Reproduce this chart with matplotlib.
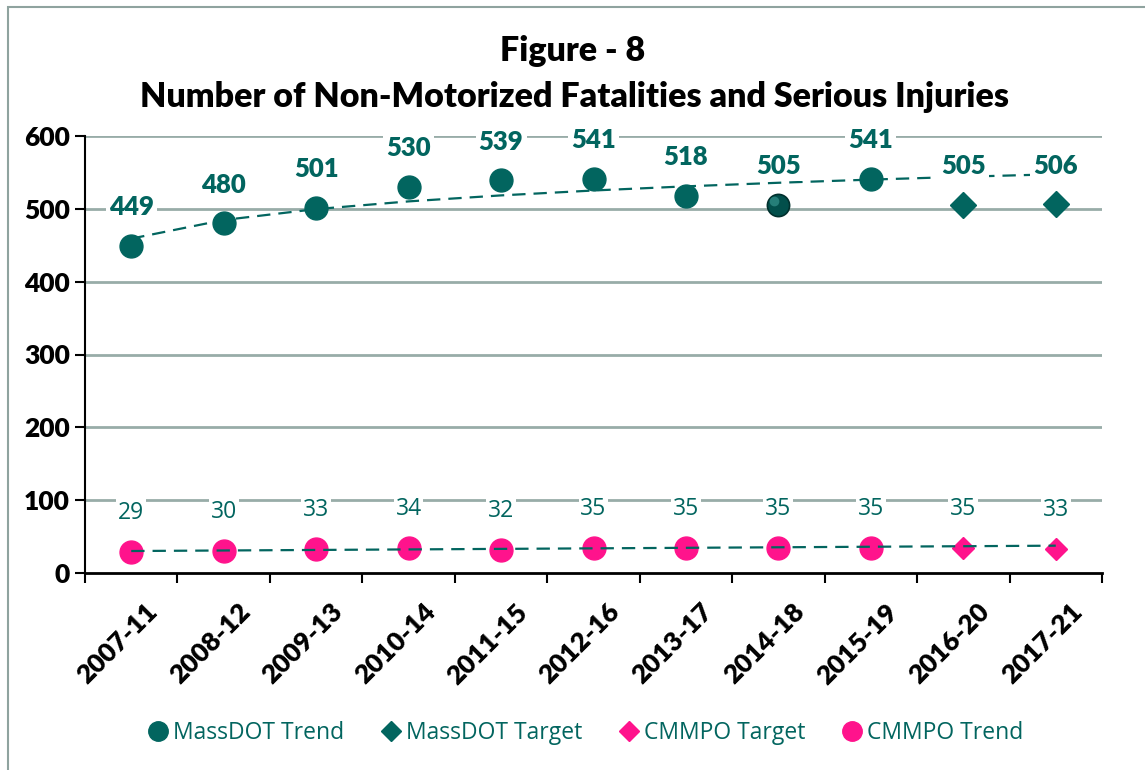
import numpy as np
import matplotlib
matplotlib.use("Agg")
import matplotlib.pyplot as plt
from matplotlib.lines import Line2D
from matplotlib.patches import Rectangle
import matplotlib.transforms as mtransforms

# ---------------- data ----------------
periods = ["2007-11", "2008-12", "2009-13", "2010-14", "2011-15", "2012-16",
           "2013-17", "2014-18", "2015-19", "2016-20", "2017-21"]
massdot_trend = [449, 480, 501, 530, 539, 541, 518, 505, 541]   # 2007-11 .. 2015-19
massdot_target = [505, 506]                                      # 2016-20, 2017-21
cmmpo_trend = [29, 30, 33, 34, 32, 35, 35, 35, 35]               # 2007-11 .. 2015-19
cmmpo_target = [35, 33]                                          # 2016-20, 2017-21
yticks = [0, 100, 200, 300, 400, 500, 600]

TEAL = "#02655F"
PINK = "#FF138C"
GRID = "#98ACA8"

plt.rcParams["font.family"] = ["Lato", "DejaVu Sans"]

fig = plt.figure(figsize=(11.45, 7.7), dpi=100)
ax = fig.add_axes([85 / 1145, 1 - 573 / 770, (1102 - 85) / 1145, (573 - 136) / 770])

n_trend = len(massdot_trend)
x_trend = np.arange(n_trend)
x_target = np.arange(n_trend, n_trend + len(massdot_target))
x_all = np.arange(len(periods))

# trendlines (fit from the plotted values, as in the spreadsheet)
lx = np.log(x_trend + 1)
b, a = np.polyfit(lx, massdot_trend, 1)
m_line = a + b * np.log(x_all + 1)
cb, ca = np.polyfit(x_trend + 1, cmmpo_trend, 1)
c_line = ca + cb * (x_all + 1)

dash = (0, (6, 3.6))
ax.plot(x_all, m_line, color=TEAL, lw=1.6, linestyle=dash, zorder=3)

# MassDOT trend markers (2014-18 drawn with a shaded look)
special = periods.index("2014-18")
reg = [i for i in x_trend if i != special]
ax.plot(reg, [massdot_trend[i] for i in reg], linestyle="none", marker="o",
        ms=16.5, color=TEAL, mec=TEAL, zorder=4)
ax.plot([special], [massdot_trend[special]], linestyle="none", marker="o",
        ms=16, color="#024F4B", mec="#01302D", mew=1.2, zorder=4)
ax.plot([special], [massdot_trend[special]], linestyle="none", marker="o",
        ms=7, color="#2E8A84", mec="none", alpha=0.8, zorder=4,
        transform=ax.transData + mtransforms.ScaledTranslation(-3 / 72, 3 / 72, fig.dpi_scale_trans))
ax.plot(x_target, massdot_target, linestyle="none", marker="D", ms=13.5,
        color=TEAL, mec=TEAL, zorder=4)

# CMMPO markers + trend
ax.plot(x_trend, cmmpo_trend, linestyle="none", marker="o", ms=16.5,
        color=PINK, mec=PINK, zorder=4)
ax.plot(x_target, cmmpo_target, linestyle="none", marker="D", ms=11.5,
        color=PINK, mec=PINK, zorder=4)
ax.plot(x_all, c_line, color=TEAL, lw=1.6, linestyle=dash, zorder=5)

# data labels
m_vals = massdot_trend + massdot_target
c_vals = cmmpo_trend + cmmpo_target
for i, v in enumerate(m_vals):
    ax.annotate(str(v), (i, v), xytext=(0, 28), textcoords="offset points",
                ha="center", va="center", fontsize=18.5, fontweight="heavy",
                color=TEAL, zorder=6,
                bbox=dict(boxstyle="square,pad=0.12", fc="white", ec="none"))
for i, v in enumerate(c_vals):
    ax.annotate(str(v), (i, v), xytext=(0, 28), textcoords="offset points",
                ha="center", va="center", fontsize=16.5, color=TEAL, zorder=6,
                family=["Open Sans", "DejaVu Sans"],
                bbox=dict(boxstyle="square,pad=0.08", fc="white", ec="none"))

# axes styling
ax.set_xlim(-0.5, len(periods) - 0.5)
ax.set_ylim(0, 600)
ax.set_yticks(yticks)
ax.set_yticklabels([str(t) for t in yticks], fontsize=19, fontweight="heavy")
ax.set_xticks(np.arange(len(periods) + 1) - 0.5, minor=False)
ax.set_xticklabels([""] * (len(periods) + 1))
ax.set_xticks(x_all, minor=True)
ax.set_xticklabels(periods, minor=True, rotation=45, ha="right",
                   rotation_mode="anchor", fontsize=19, fontweight="heavy")
ax.tick_params(axis="x", which="minor", length=0, pad=19)
ax.tick_params(axis="x", which="major", length=7, width=1.5, direction="out")
ax.tick_params(axis="y", length=7, width=1.5, direction="out", pad=4)
for lab in ax.get_xticklabels(minor=True):
    lab.set_transform(lab.get_transform() + mtransforms.ScaledTranslation(10 / 72, 0, fig.dpi_scale_trans))
for t in yticks[1:]:
    ax.axhline(t, color=GRID, lw=2, zorder=1)
for s in ["top", "right"]:
    ax.spines[s].set_visible(False)
ax.spines["left"].set_linewidth(1.5)
ax.spines["bottom"].set_linewidth(2)

# title
fig.text(0.5, 1 - 51 / 770, "Figure - 8", ha="center", va="center",
         fontsize=24.5, fontweight="heavy")
fig.text(0.502, 1 - 97 / 770, "Number of Non-Motorized Fatalities and Serious Injuries",
         ha="center", va="center", fontsize=24.5, fontweight="heavy")

# chart border
fig.add_artist(Rectangle((8 / 1145, -0.01), 1.2, 1 - 7 / 770 + 0.01,
                         transform=fig.transFigure, fill=False,
                         ec="#8FA39F", lw=1.5))

# legend
handles = [
    Line2D([], [], linestyle="none", marker="o", ms=14, color=TEAL),
    Line2D([], [], linestyle="none", marker="D", ms=10, color=TEAL),
    Line2D([], [], linestyle="none", marker="D", ms=10, color=PINK),
    Line2D([], [], linestyle="none", marker="o", ms=14, color=PINK),
]
names = ["MassDOT Trend", "MassDOT Target", "CMMPO Target", "CMMPO Trend"]
leg = fig.legend(handles, names, loc="center", bbox_to_anchor=(0.512, 1 - 733 / 770),
                 ncol=4, frameon=False, handlelength=0.8, handletextpad=0.25,
                 columnspacing=1.65,
                 prop={"family": ["Open Sans", "DejaVu Sans"], "size": 16.5})
for t in leg.get_texts():
    t.set_color(TEAL)

fig.savefig("out.png", dpi=100)
